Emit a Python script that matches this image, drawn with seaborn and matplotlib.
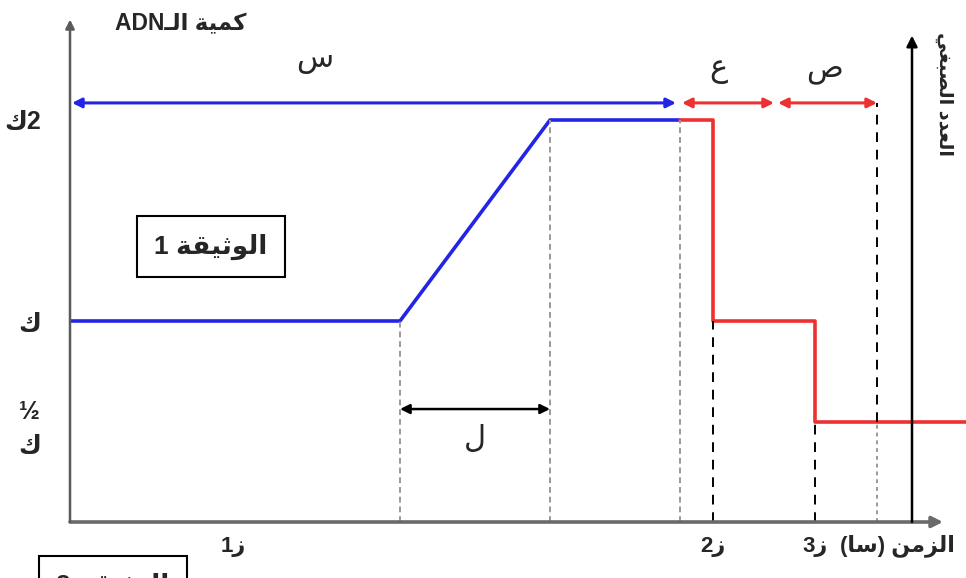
import matplotlib
matplotlib.use("Agg")
import matplotlib.pyplot as plt
import seaborn as sns
import pandas as pd

# ---------------- data ----------------
blue_t = [0, 33, 48, 61]
blue_dna = [1, 1, 2, 2]
red_t = [61, 64.3, 64.3, 74.5, 74.5, 89.6]
red_dna = [2, 2, 1, 1, 0.5, 0.5]
y_ticks = [0.5, 1, 2]
y_tick_labels = [("½", "ك"), ("", "ك"), ("", "2ك")]
x_ticks = [16.3, 64.3, 74.5]
x_tick_labels = ["ز1", "ز2", "ز3"]
phase_bounds = [0.2, 33, 48, 61, 64.3, 70.6, 80.7]
phase_labels = ["س", "ع", "ص", "ل"]
title_ar = "كمية الـ"
title_lat = "ADN"
doc1 = "الوثيقة"
xlabel_ar = "الزمن"
xunit_ar = "سا"
right_label = "العدد الصبغي"

# ------------- Arabic shaping helper (presentation forms + RTL order) -------------
FORMS = {
    'ا': (0xFE8D, 0xFE8E, None, None), 'ب': (0xFE8F, 0xFE90, 0xFE91, 0xFE92),
    'ة': (0xFE93, 0xFE94, None, None), 'ث': (0xFE99, 0xFE9A, 0xFE9B, 0xFE9C),
    'د': (0xFEA9, 0xFEAA, None, None), 'ز': (0xFEAF, 0xFEB0, None, None),
    'س': (0xFEB1, 0xFEB2, 0xFEB3, 0xFEB4), 'ص': (0xFEB9, 0xFEBA, 0xFEBB, 0xFEBC),
    'ع': (0xFEC9, 0xFECA, 0xFECB, 0xFECC), 'غ': (0xFECD, 0xFECE, 0xFECF, 0xFED0),
    'ق': (0xFED5, 0xFED6, 0xFED7, 0xFED8), 'ك': (0xFED9, 0xFEDA, 0xFEDB, 0xFEDC),
    'ل': (0xFEDD, 0xFEDE, 0xFEDF, 0xFEE0), 'م': (0xFEE1, 0xFEE2, 0xFEE3, 0xFEE4),
    'ن': (0xFEE5, 0xFEE6, 0xFEE7, 0xFEE8), 'و': (0xFEED, 0xFEEE, None, None),
    'ي': (0xFEF1, 0xFEF2, 0xFEF3, 0xFEF4), 'ـ': (0x640, 0x640, 0x640, 0x640),
}


def shape(s):
    out = []
    for i, c in enumerate(s):
        if c not in FORMS:
            out.append(c)
            continue
        f = FORMS[c]
        prev = s[i - 1] if i > 0 else ''
        nxt = s[i + 1] if i + 1 < len(s) else ''
        jp = prev in FORMS and FORMS[prev][2] is not None
        jn = f[2] is not None and nxt in FORMS
        g = f[3] if (jp and jn) else f[1] if jp else f[2] if jn else f[0]
        out.append(chr(g))
    return ''.join(out)


def rtl(s):
    return shape(s)[::-1]


def mixed(s):
    # split into arabic / non-arabic runs (digits etc.), RTL paragraph
    runs, cur, cur_ar = [], '', None
    for c in s:
        a = c in FORMS
        if c == ' ':
            a = cur_ar if cur_ar is not None else True
        if cur_ar is None or a == cur_ar:
            cur += c
            cur_ar = a
        else:
            runs.append((cur, cur_ar))
            cur, cur_ar = c, a
    runs.append((cur, cur_ar))
    return ''.join(rtl(r) if a else r for r, a in reversed(runs))


def ylab(pair):
    top, bottom = pair
    return (top + "\n" if top else "") + mixed(bottom)


# ---------------- figure ----------------
sns.set_style("white")
plt.rcParams['font.family'] = ['Liberation Sans', 'DejaVu Sans']

fig = plt.figure(figsize=(9.66, 5.78), dpi=100)
ax = fig.add_axes([70 / 966, 56 / 578, 896 / 966, 502.5 / 578])
ax.set_xlim(0, 89.6)
ax.set_ylim(0, 2.5)
for s in ax.spines.values():
    s.set_visible(False)

df = pd.DataFrame({
    "t": blue_t + red_t,
    "dna": blue_dna + red_dna,
    "phase": ["a"] * len(blue_t) + ["b"] * len(red_t),
})
sns.lineplot(data=df, x="t", y="dna", hue="phase",
             palette={"a": "#2424e6", "b": "#ee3030"},
             sort=False, estimator=None, legend=False, lw=2.6, ax=ax)
ax.set_xlabel("")
ax.set_ylabel("")

# guide lines
gray = "#9a9a9a"
ax.plot([phase_bounds[1]] * 2, [0, blue_dna[1]], ls=(0, (3, 2)), color=gray, lw=1.4)
ax.plot([phase_bounds[2]] * 2, [0, blue_dna[2]], ls=(0, (3, 2)), color=gray, lw=1.4)
ax.plot([phase_bounds[3]] * 2, [0, blue_dna[3]], ls=(0, (3, 2)), color=gray, lw=1.4)
ax.plot([red_t[1]] * 2, [0, red_dna[2]], ls=(0, (5, 4)), color="black", lw=1.4)
ax.plot([red_t[3]] * 2, [0, red_dna[4]], ls=(0, (5, 4)), color="black", lw=1.4)
top_arrow_y = 2.085
ax.plot([phase_bounds[6]] * 2, [red_dna[-1], top_arrow_y], ls=(0, (5, 4)), color="black", lw=1.4)
ax.plot([phase_bounds[6]] * 2, [0, red_dna[-1]], ls=(0, (2, 2)), color=gray, lw=1.4)

# axes arrows
ax.annotate('', xy=(87.3, 0), xytext=(0, 0), annotation_clip=False,
            arrowprops=dict(arrowstyle='-|>', color='#6a6a6a', lw=2.6,
                            mutation_scale=16, shrinkA=0, shrinkB=0))
ax.annotate('', xy=(0, 2.5), xytext=(0, 0), annotation_clip=False,
            arrowprops=dict(arrowstyle='-|>', color='#5a5a5a', lw=1.8,
                            mutation_scale=13, shrinkA=0, shrinkB=0))
ax.annotate('', xy=(84.2, 2.42), xytext=(84.2, 0), annotation_clip=False,
            arrowprops=dict(arrowstyle='-|>', color='black', lw=1.8,
                            mutation_scale=16, shrinkA=0, shrinkB=0))

# phase arrows
def darrow(x0, x1, y, color, lw=2.2):
    ax.annotate('', xy=(x1, y), xytext=(x0, y), annotation_clip=False,
                arrowprops=dict(arrowstyle='<|-|>', color=color, lw=lw,
                                mutation_scale=14, shrinkA=0, shrinkB=0))

darrow(phase_bounds[0], phase_bounds[3] - 0.4, top_arrow_y, "#2424e6")
darrow(phase_bounds[3] + 0.2, phase_bounds[5] - 0.2, top_arrow_y, "#ee3030")
darrow(phase_bounds[5] + 0.2, phase_bounds[6], top_arrow_y, "#ee3030")
darrow(phase_bounds[1], phase_bounds[2], 0.562, "black", lw=1.8)

fs_ph = 22
ax.text(24.5, 2.3, rtl(phase_labels[0]), ha='center', va='center', fontsize=fs_ph, family='DejaVu Sans')
ax.text(64.8, 2.25, rtl(phase_labels[1]), ha='center', va='center', fontsize=fs_ph, family='DejaVu Sans')
ax.text(75.5, 2.25, rtl(phase_labels[2]), ha='center', va='center', fontsize=fs_ph, family='DejaVu Sans')
ax.text(40.5, 0.41, rtl(phase_labels[3]), ha='center', va='center', fontsize=fs_ph, family='DejaVu Sans')

# ticks
ax.set_yticks(y_ticks, labels=[ylab(p) for p in y_tick_labels])
ax.set_xticks(x_ticks, labels=[mixed(s) for s in x_tick_labels])
ax.tick_params(axis='y', length=6, width=1.5, color='#666', pad=15, labelsize=18)
ax.tick_params(axis='x', length=5, width=1.5, color='black', direction='in', pad=10, labelsize=16)
for lab in ax.get_yticklabels() + ax.get_xticklabels():
    lab.set_fontweight('bold')
ylabs = ax.get_yticklabels()
ylabs[0].set_linespacing(1.5)
ylabs[0].set_multialignment('center')

# titles / labels
fig.text(115 / 966, 1 - 24 / 578, title_lat + rtl(title_ar), ha='left', va='center',
         fontsize=16.5, fontweight='bold')
ax.text(77.0, -0.06, "(" + rtl(xunit_ar) + ") " + rtl(xlabel_ar), ha='left', va='top',
        fontsize=16, fontweight='bold', clip_on=False)
ax.text(87.4, 2.13, rtl(right_label), rotation=270, ha='center', va='center',
        fontsize=14, fontweight='bold', clip_on=False)

ax.text(14.1, 1.37, mixed(doc1 + " 1"), ha='center', va='center', fontsize=19, fontweight='bold',
        bbox=dict(boxstyle='square,pad=0.65', fc='white', ec='black', lw=1.5))
ax.text(4.3, -0.32, mixed(doc1 + " 2"), ha='center', va='center', fontsize=19, fontweight='bold',
        clip_on=False,
        bbox=dict(boxstyle='square,pad=0.65', fc='white', ec='black', lw=1.5))

fig.savefig("out.png", dpi=100)
